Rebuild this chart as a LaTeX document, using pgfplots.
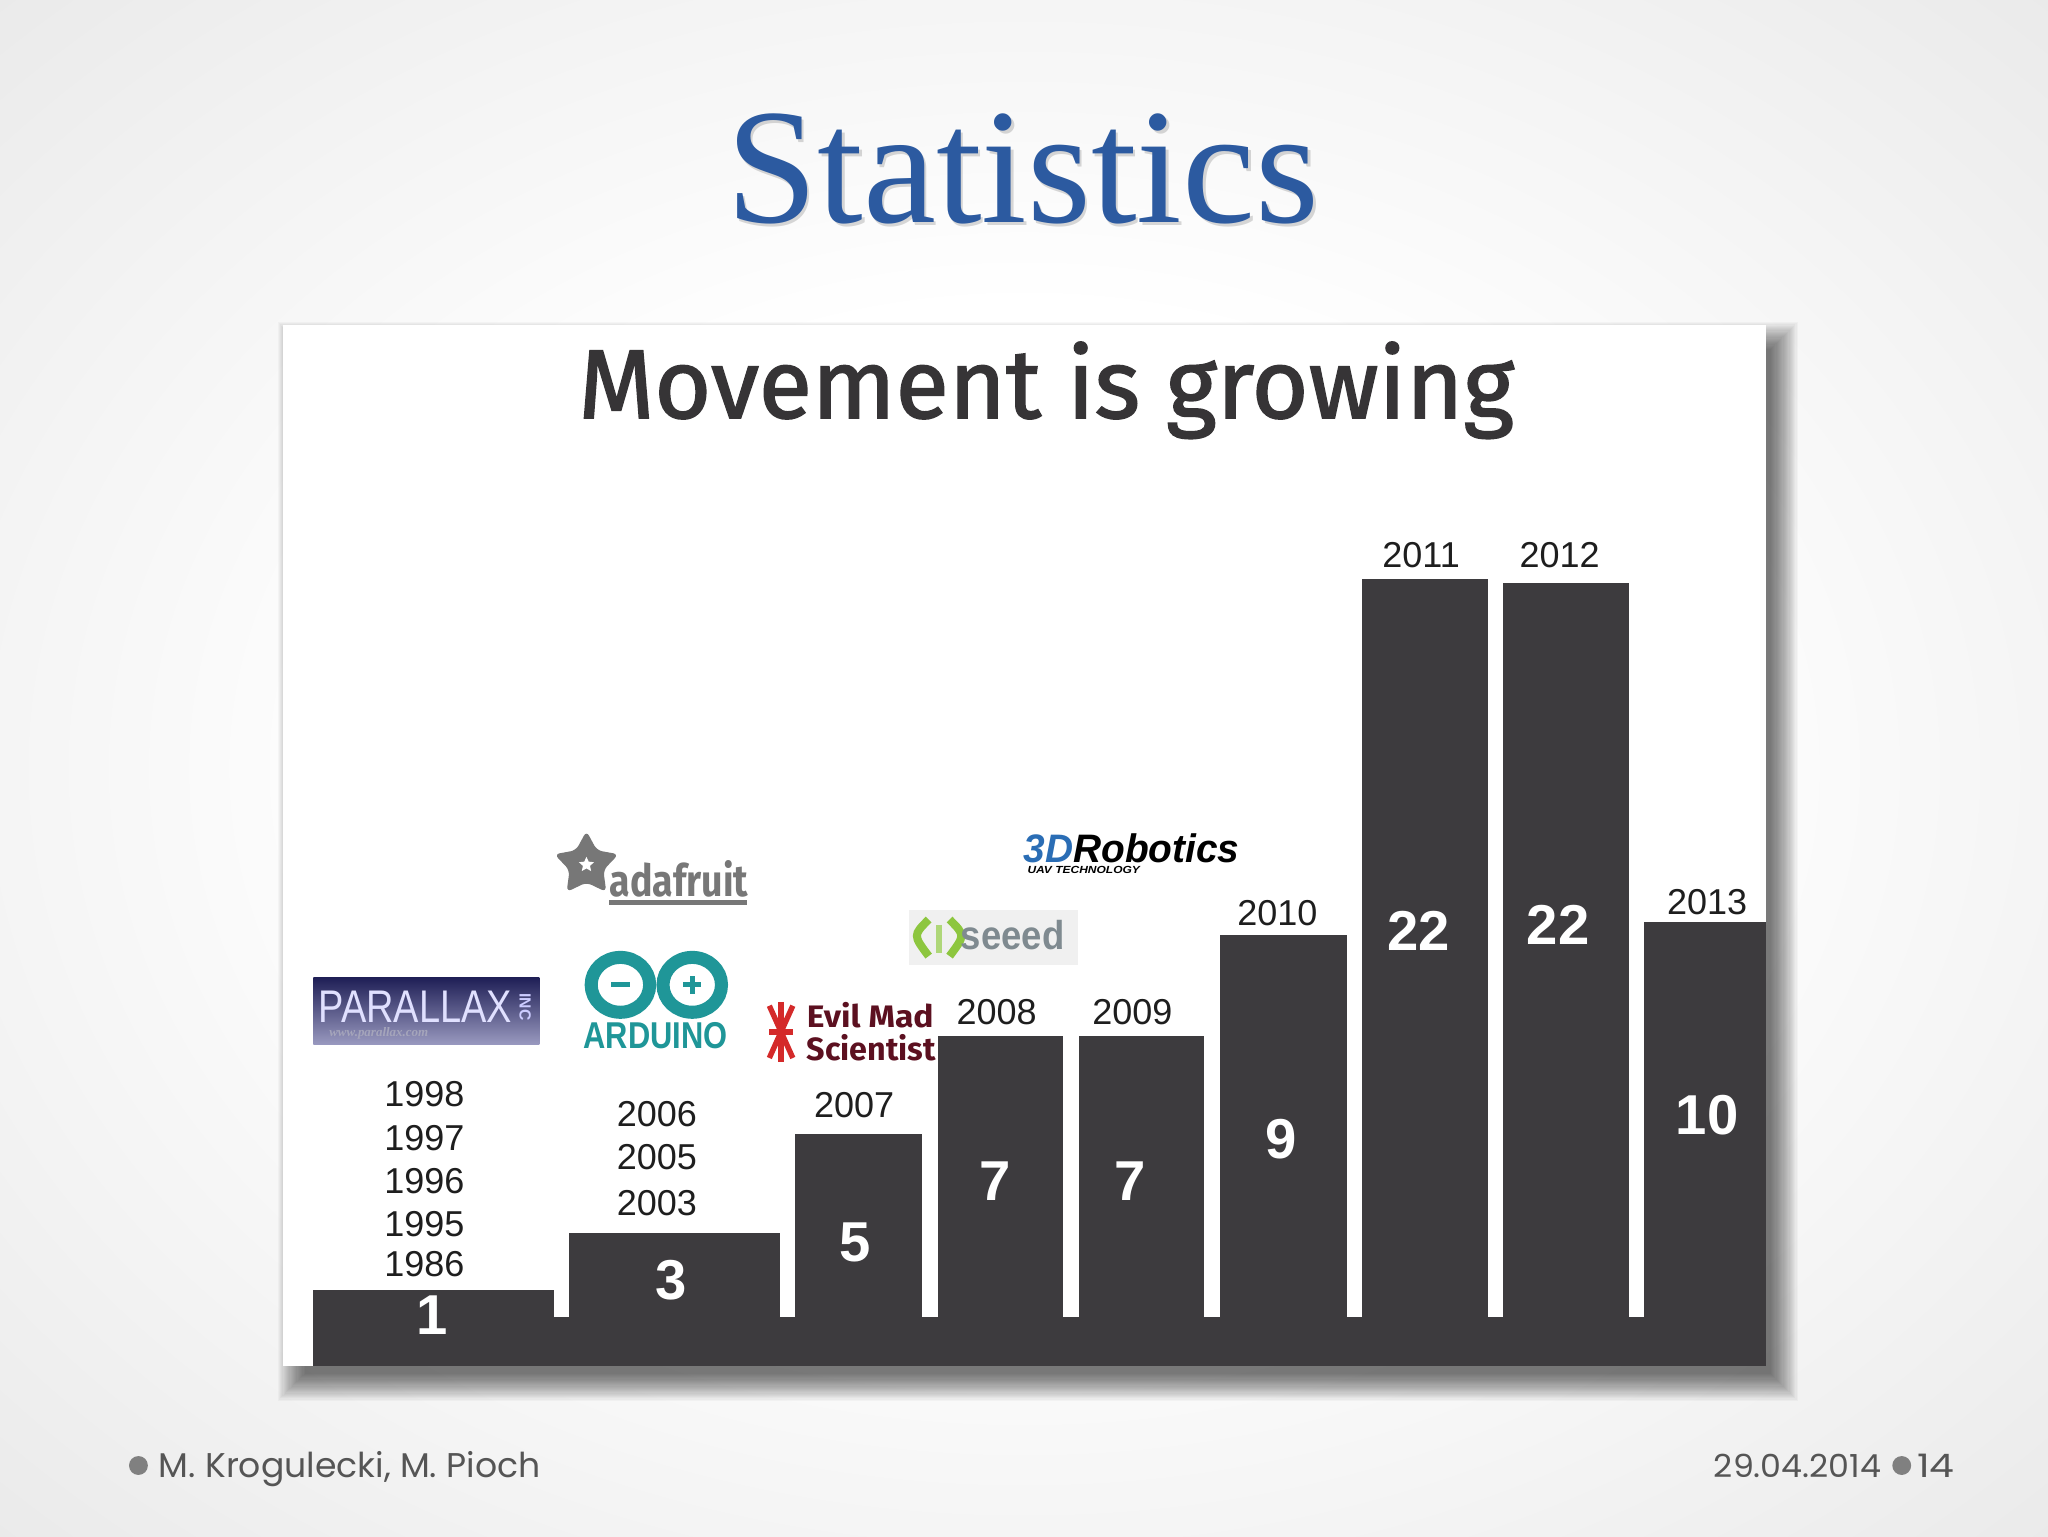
\documentclass[border=0pt]{standalone}
\usepackage{pgfplots}
\pgfplotsset{compat=1.18}
\usepackage{graphicx}
\usepackage{fontspec}
\setmainfont{Liberation Sans}
\newfontfamily\titlefont{Liberation Serif}
\newfontfamily\headfont{Fira Sans}
\newfontfamily\headmed[FakeBold=1.6]{Fira Sans}
\newfontfamily\footfont{Poppins}
\usetikzlibrary{shapes.geometric}
\definecolor{barc}{HTML}{3D3B3E}
\definecolor{titleblue}{HTML}{2C5AA0}
\definecolor{headc}{HTML}{363436}
\definecolor{yearc}{HTML}{1E1E1E}
\definecolor{footc}{HTML}{555555}
\definecolor{bulletc}{HTML}{808080}
\definecolor{adagray}{HTML}{777777}
\definecolor{ardteal}{HTML}{1F9698}
\definecolor{emsred}{HTML}{D42A2A}
\definecolor{emstext}{HTML}{5C1020}
\definecolor{seeedbg}{HTML}{F0F0F0}
\definecolor{seeedtxt}{HTML}{7F8A90}
\definecolor{leaf}{HTML}{8DC63F}
\definecolor{blue3d}{HTML}{2A6DB5}
\definecolor{pxtop}{HTML}{1E1E55}
\definecolor{pxbot}{HTML}{9A9AC0}
\pgfdeclareradialshading{slidebg}{\pgfpoint{0bp}{0bp}}{color(0bp)=(white); color(15bp)=(white); color(35bp)=(black!8); color(50bp)=(black!15); color(71bp)=(black!26)}
\begin{document}
\begin{tikzpicture}
\begin{axis}[
  width=16cm, height=12cm, scale only axis,
  xmin=0, xmax=1568, ymin=0, ymax=1176, y dir=reverse,
  axis lines=none, ticks=none, clip=false,
]
% slide background
\shade[shading=slidebg] (0,0) rectangle (1568,1176);
% title with soft shadow
\node[anchor=base, font=\titlefont\fontsize{36.5}{40}\selectfont, text=black, opacity=0.15] at (785,173) {Statistics};
\node[anchor=base, font=\titlefont\fontsize{36.5}{40}\selectfont, text=titleblue] at (783,170) {Statistics};
% panel shadow (soft, built from thin layers)
\pgfplotsinvokeforeach{1,...,24}{
  \fill[black, opacity=0.028] ({217+10-(#1-8)*0.9},{249+12-(#1-8)*0.9}) rectangle ({1352+10+(#1-8)*0.9},{1046+12+(#1-8)*0.9});
}
% white panel
\fill[white] (217,249) rectangle (1352,1046);
% chart title
\node[anchor=base, font=\headmed\fontsize{21.7}{24}\selectfont, text=headc] at (801,320) {Movement is growing};

% bars (x-extent, top; value shown inside)
\addplot[fill=barc, draw=none] coordinates {(240,1046) (240,1008) (1352,1008) (1352,1046)} --cycle;
\addplot[fill=barc, draw=none] coordinates {(240,1008) (240,988) (424,988) (424,1008)} --cycle;   % 1
\addplot[fill=barc, draw=none] coordinates {(436,1008) (436,944) (597,944) (597,1008)} --cycle;   % 3
\addplot[fill=barc, draw=none] coordinates {(609,1008) (609,868) (706,868) (706,1008)} --cycle;   % 5
\addplot[fill=barc, draw=none] coordinates {(718,1008) (718,793) (814,793) (814,1008)} --cycle;   % 7
\addplot[fill=barc, draw=none] coordinates {(826,1008) (826,793) (922,793) (922,1008)} --cycle;   % 7
\addplot[fill=barc, draw=none] coordinates {(934,1008) (934,716) (1031,716) (1031,1008)} --cycle; % 9
\addplot[fill=barc, draw=none] coordinates {(1043,1008) (1043,443) (1139,443) (1139,1008)} --cycle; % 22
\addplot[fill=barc, draw=none] coordinates {(1151,1008) (1151,446) (1247,446) (1247,1008)} --cycle; % 22
\addplot[fill=barc, draw=none] coordinates {(1259,1008) (1259,706) (1352,706) (1352,1008)} --cycle; % 10

% values
\begin{scope}[every node/.style={font=\bfseries\fontsize{12.5}{14}\selectfont, text=white}]
\node at (331,1007) {1};
\node at (514,980) {3};
\node at (655,951) {5};
\node at (762,904) {7};
\node at (865,904) {7};
\node at (981,872) {9};
\node at (1086,713) {22};
\node at (1193,708) {22};
\node at (1307,854) {10};
\end{scope}

% years
\begin{scope}[every node/.style={font=\fontsize{8}{9}\selectfont, text=yearc}]
\node at (325,838) {1998};
\node at (325,871) {1997};
\node at (325,904) {1996};
\node at (325,937) {1995};
\node at (325,968) {1986};
\node at (503,853) {2006};
\node at (503,886) {2005};
\node at (503,921) {2003};
\node at (654,846) {2007};
\node at (763,775) {2008};
\node at (867,775) {2009};
\node at (978,699) {2010};
\node at (1088,425) {2011};
\node at (1194,425) {2012};
\node at (1307,691) {2013};
\end{scope}

% Parallax logo
\shade[top color=pxtop, bottom color=pxbot] (240,748) rectangle (413,800);
\node[text=white!88!blue] at (318,771) {\resizebox{43pt}{7pt}{\fontsize{10}{10}\selectfont PARALLAX}};
\node[text=white!80!blue, rotate=-90] at (402,771) {\resizebox{6pt}{2.5pt}{\bfseries INC}};
\node[text=white!60!pxtop] at (290,791) {\resizebox{22pt}{2pt}{\titlefont\bfseries\itshape www.parallax.com}};

% adafruit logo
\node[star, star points=5, star point ratio=1.9, fill=adagray, minimum size=15pt, inner sep=0pt, rounded corners=1.2pt] at (449,662) {};
\node[star, star points=5, star point ratio=2.1, fill=white, minimum size=3.5pt, inner sep=0pt] at (449,662) {};
\node[anchor=base west, inner sep=0pt, text=adagray] at (466,686) {\resizebox{30.8pt}{8pt}{\headfont\bfseries adafruit}};
\fill[adagray] (466,689) rectangle (572,693);

% Arduino logo
\draw[ardteal, line width=2.9pt] (475,754) ellipse [x radius=6.5pt, y radius=6.1pt];
\draw[ardteal, line width=2.9pt] (530,754) ellipse [x radius=6.5pt, y radius=6.1pt];
\fill[ardteal] (468,752) rectangle (482,756);
\fill[ardteal] (523,752) rectangle (537,756);
\fill[ardteal] (528,747) rectangle (532,761);
\node[text=ardteal] at (502,793) {\resizebox{32pt}{5.8pt}{\bfseries ARDUINO}};

% Evil Mad Scientist logo
\draw[emsred, line width=1.4pt] (598,767) -- (598,813);
\draw[emsred, line width=1.2pt] (589,770) -- (607,810);
\draw[emsred, line width=1.2pt] (607,770) -- (589,810);
\draw[emsred, line width=1.2pt] (589,790) -- (607,790);
\node[anchor=base west, inner sep=0pt, text=emstext] at (617,787) {\resizebox{28.2pt}{5.6pt}{\headfont\bfseries Evil Mad}};
\node[anchor=base west, inner sep=0pt, text=emstext] at (617,812) {\resizebox{28.7pt}{5.8pt}{\headfont\bfseries Scientist}};

% seeed logo
\fill[seeedbg] (696,697) rectangle (825,739);
\draw[leaf, line width=1.8pt] (711,704) .. controls (699,716) .. (711,732);
\draw[leaf, line width=1.8pt] (727,704) .. controls (739,716) .. (727,732);
\draw[leaf!70!white, line width=1.2pt] (719,708) -- (719,730);
\node[anchor=base west, inner sep=0pt, text=seeedtxt] at (735,727) {\resizebox{23pt}{6.5pt}{\bfseries seeed}};

% 3D Robotics logo
\node[anchor=base west, inner sep=0pt] at (783,660) {\resizebox{48pt}{6.4pt}{\bfseries\itshape\textcolor{blue3d}{3D}Robotics}};
\node[anchor=base west, inner sep=0pt] at (786,669) {\resizebox{25pt}{1.6pt}{\bfseries\itshape UAV TECHNOLOGY}};

% footer
\fill[bulletc] (106,1122) circle[radius=2.1pt];
\node[anchor=base west, inner sep=0pt, text=footc] at (121,1131) {\resizebox{84.8pt}{5.8pt}{\footfont M. Krogulecki, M. Pioch}};
\node[anchor=base east, inner sep=0pt, text=footc] at (1441,1131) {\resizebox{37.2pt}{5.2pt}{\footfont 29.04.2014}};
\fill[bulletc] (1456,1122) circle[radius=2.1pt];
\node[anchor=base west, inner sep=0pt, text=footc] at (1467,1131) {\resizebox{8.3pt}{5.2pt}{\footfont 14}};
\end{axis}
\end{tikzpicture}
\end{document}
